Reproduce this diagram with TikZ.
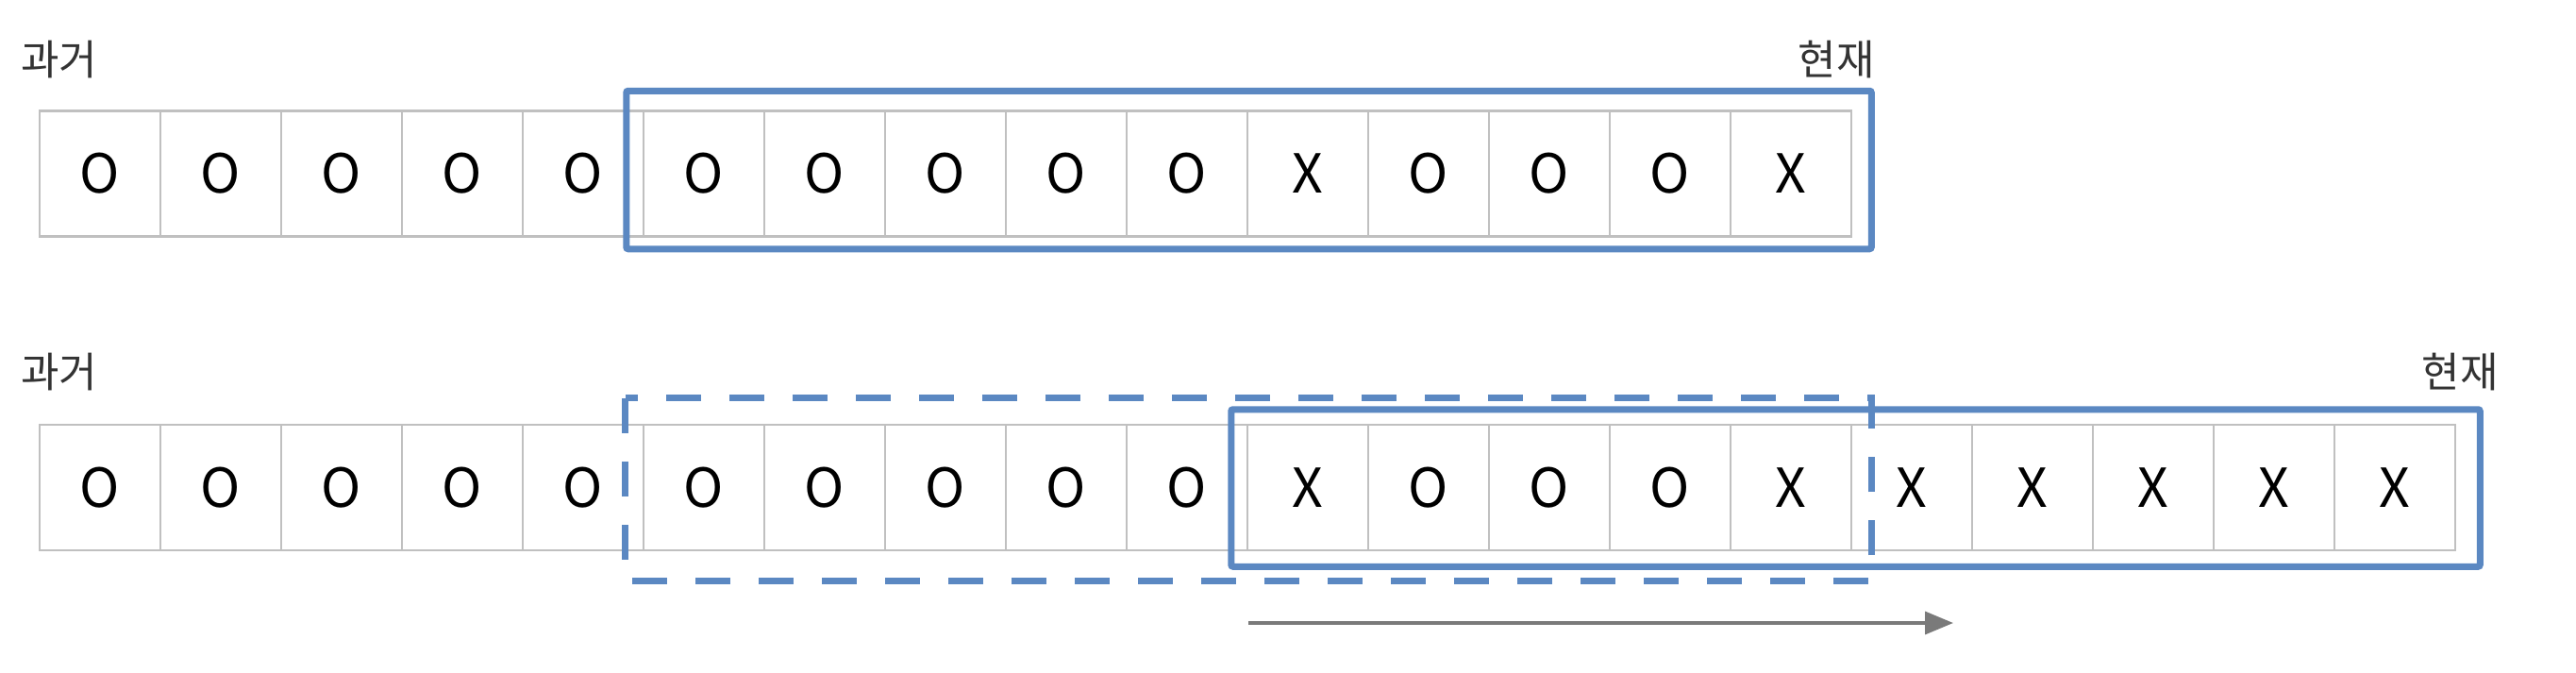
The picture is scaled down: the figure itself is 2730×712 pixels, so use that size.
\documentclass[tikz,border=0pt]{standalone}
\usepackage{fontspec}
\setmainfont{Noto Sans CJK KR}
\usetikzlibrary{arrows.meta}
\definecolor{boxblue}{RGB}{91,136,194}
\definecolor{gridgray}{RGB}{192,192,192}
\definecolor{labelgray}{RGB}{51,51,51}
\definecolor{arrowgray}{RGB}{122,122,122}
\tikzset{
  cell/.style={draw=gridgray, line width=2.5pt, minimum width=128pt, minimum height=133pt, inner sep=0pt, font=\fontsize{57}{60}\selectfont, text=black},
  label/.style={inner sep=0pt, font=\fontsize{44}{50}\selectfont, text=labelgray},
  bluebox/.style={draw=boxblue, line width=7pt, rounded corners=2pt},
  dashbox/.style={draw=boxblue, line width=7pt, dash pattern=on 37pt off 30pt},
  movearrow/.style={draw=arrowgray, line width=3.5pt, -{Triangle[length=30pt,width=24pt]}}
}
\begin{document}
\begin{tikzpicture}[x=1pt,y=-1pt]
\useasboundingbox (0,0) rectangle (2730,712);
% row 1
\foreach \t [count=\i] in {O,O,O,O,O,O,O,O,O,O,X,O,O,O,X}{
  \node[cell] (r1c\i) at ({42+128*(\i-0.5)},184) {\t};
}
% row 2
\foreach \t [count=\i] in {O,O,O,O,O,O,O,O,O,O,X,O,O,O,X,X,X,X,X,X}{
  \node[cell] (r2c\i) at ({42+128*(\i-0.5)},516.5) {\t};
}
\node[label, anchor=base west] (past1) at (22,79) {과거};
\node[label, anchor=base east] (now1) at (1987,79) {현재};
\node[label, anchor=base west] (past2) at (22,410) {과거};
\node[label, anchor=base east] (now2) at (2648,410) {현재};
\draw[bluebox] ([shift={(-17,-20)}]r1c6.north west) rectangle ([shift={(20,12)}]r1c15.south east);
\draw[dashbox] ([shift={(-18,-27)}]r2c6.north west) rectangle ([shift={(20,31)}]r2c15.south east);
\draw[bluebox] ([shift={(-16,-15)}]r2c11.north west) rectangle ([shift={(25,16)}]r2c20.south east);
\coordinate (arrS) at (1323,660);
\coordinate (arrE) at (2070,660);
\draw[movearrow] (arrS) -- (arrE);
\end{tikzpicture}
\end{document}
